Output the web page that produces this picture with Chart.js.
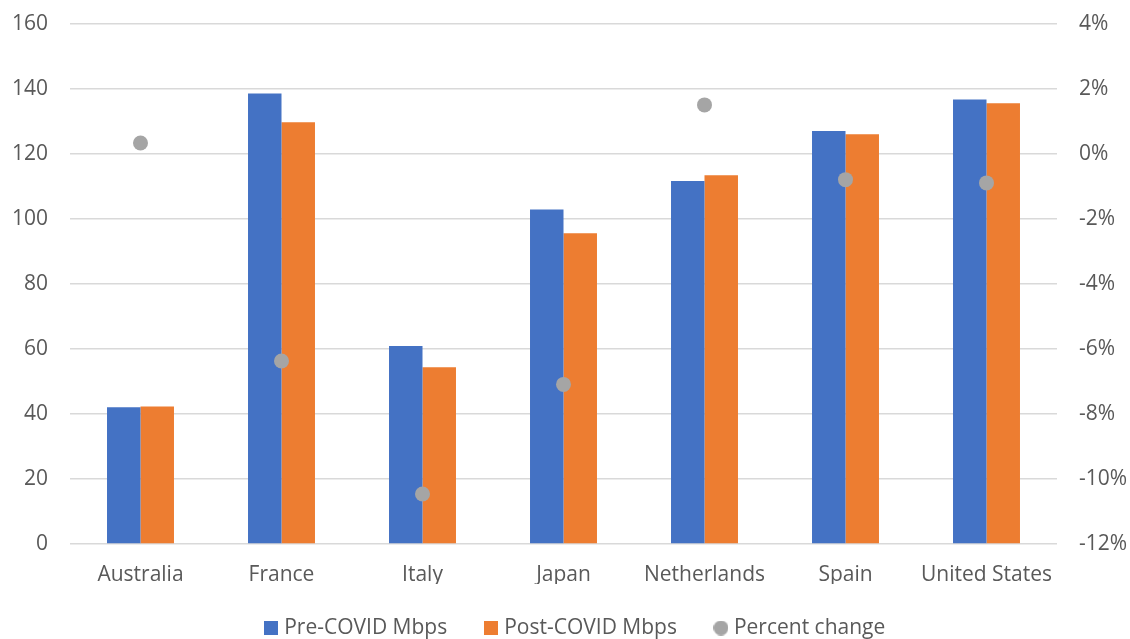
<!DOCTYPE html>
<html>
<head>
<meta charset="utf-8">
<script src="https://cdn.jsdelivr.net/npm/chart.js@4.4.1/dist/chart.umd.min.js"></script>
<style>
  html, body { margin: 0; padding: 0; background: #ffffff; }
  #wrap { width: 1130px; height: 639px; position: relative; }
</style>
</head>
<body>
<div id="wrap"><canvas id="chart" width="1130" height="639"></canvas></div>
<script>
// Broadband speeds before and after COVID, by country
const countries = ['Australia', 'France', 'Italy', 'Japan', 'Netherlands', 'Spain', 'United States'];
const preCovidMbps = [42.1, 138.6, 60.9, 102.9, 111.7, 127.1, 136.8];
const postCovidMbps = [42.3, 129.8, 54.4, 95.6, 113.5, 126.1, 135.6];
const percentChange = [0.34, -6.37, -10.46, -7.09, 1.51, -0.79, -0.89];

const speedTicks = { min: 0, max: 160, step: 20 };
const percentTicks = { min: -12, max: 4, step: 2 };

const TEXT = '#595959';
const GRID = '#d9d9d9';
const FONT = { family: '"Open Sans", "Liberation Sans", sans-serif', size: 21 };

// small legend glyphs
function glyph(size, color, round) {
  const c = document.createElement('canvas');
  c.width = size; c.height = size;
  const g = c.getContext('2d');
  g.fillStyle = color;
  if (round) { g.beginPath(); g.arc(size / 2, size / 2, size / 2, 0, Math.PI * 2); g.fill(); }
  else g.fillRect(0, 0, size, size);
  return c;
}
const legendGlyphs = { 1: glyph(14, '#4472c4', false), 2: glyph(14, '#ed7d31', false), 0: glyph(15, '#a5a5a5', true) };

// places the legend row: a little right of centre and up from the bottom edge
const legendShift = {
  id: 'legendShift',
  afterLayout(chart) {
    if (chart.legend) {
      chart.legend.left += 24;
      chart.legend.top -= 8;
    }
  }
};

// fixed axis widths; the label overhang is covered by the layout padding instead
function fixWidth(w) {
  return (s) => { s.width = w; s.paddingTop = 0; s.paddingBottom = 0; };
}

new Chart(document.getElementById('chart'), {
  type: 'bar',
  data: {
    labels: countries,
    datasets: [
      {
        type: 'line',
        label: 'Percent change',
        data: percentChange,
        yAxisID: 'y1',
        showLine: false,
        pointRadius: 7.5,
        pointBorderWidth: 0,
        pointBackgroundColor: '#a5a5a5',
        backgroundColor: '#a5a5a5',
        borderColor: '#a5a5a5',
        order: 0
      },
      {
        label: 'Pre-COVID Mbps',
        data: preCovidMbps,
        backgroundColor: '#4472c4',
        yAxisID: 'y',
        categoryPercentage: 0.475,
        barPercentage: 1,
        order: 1
      },
      {
        label: 'Post-COVID Mbps',
        data: postCovidMbps,
        backgroundColor: '#ed7d31',
        yAxisID: 'y',
        categoryPercentage: 0.475,
        barPercentage: 1,
        order: 2
      }
    ]
  },
  plugins: [legendShift],
  options: {
    responsive: false,
    animation: false,
    events: [],
    layout: { padding: { top: 24, left: 0, right: 0, bottom: 0 } },
    scales: {
      x: {
        grid: { display: false, drawTicks: false },
        border: { display: false },
        ticks: { color: TEXT, font: FONT, padding: 18, maxRotation: 0 },
        afterFit: (s) => { s.height = 40; }
      },
      y: {
        position: 'left',
        min: speedTicks.min,
        max: speedTicks.max,
        grid: { color: GRID, lineWidth: 1.5, drawTicks: false },
        border: { display: false },
        ticks: { stepSize: speedTicks.step, color: TEXT, font: FONT, padding: 22 },
        afterFit: fixWidth(70)
      },
      y1: {
        position: 'right',
        min: percentTicks.min,
        max: percentTicks.max,
        grid: { drawOnChartArea: false, drawTicks: false },
        border: { display: false },
        ticks: { stepSize: percentTicks.step, color: TEXT, font: FONT, padding: 22,
                 callback: (v) => v + '%' },
        afterFit: fixWidth(73)
      }
    },
    plugins: {
      tooltip: { enabled: false },
      legend: {
        position: 'bottom',
        maxHeight: 55,
        labels: {
          color: TEXT,
          font: FONT,
          padding: 41.5,
          usePointStyle: true,
          boxHeight: 14,
          pointStyleWidth: 5,
          generateLabels: (chart) => {
            const items = Chart.defaults.plugins.legend.labels.generateLabels(chart);
            items.forEach((it) => { it.pointStyle = legendGlyphs[it.datasetIndex]; });
            const byIndex = (i) => items.find((it) => it.datasetIndex === i);
            return [byIndex(1), byIndex(2), byIndex(0)];
          }
        }
      }
    }
  }
});
</script>
</body>
</html>
